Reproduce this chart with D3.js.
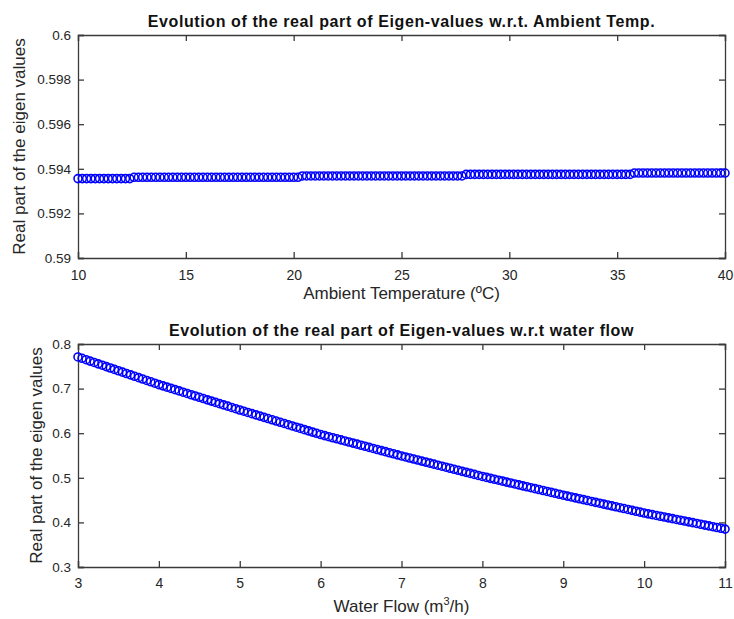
<!DOCTYPE html>
<html>
<head>
<meta charset="utf-8">
<script src="https://cdnjs.cloudflare.com/ajax/libs/d3/7.8.5/d3.min.js"></script>
<style>
  body { margin: 0; background: white; }
  text { font-family: "Liberation Sans", Arial, sans-serif; }
</style>
</head>
<body>
<svg id="graph"></svg>
<script>
const width = 734;
const height = 619;

//////////////// data: ambient temperature (top plot)
const tempX = [
  10, 10.2, 10.4, 10.6, 10.8, 11, 11.2, 11.4, 11.6, 11.8, 12, 12.2, 12.4,
  12.6, 12.8, 13, 13.2, 13.4, 13.6, 13.8, 14, 14.2, 14.4, 14.6, 14.8, 15, 15.2, 15.4, 15.6, 15.8,
  16, 16.2, 16.4, 16.6, 16.8, 17, 17.2, 17.4, 17.6, 17.8, 18, 18.2, 18.4, 18.6, 18.8, 19, 19.2,
  19.4, 19.6, 19.8, 20, 20.2,
  20.4, 20.6, 20.8, 21, 21.2, 21.4, 21.6, 21.8, 22, 22.2, 22.4, 22.6, 22.8, 23, 23.2, 23.4, 23.6,
  23.8, 24, 24.2, 24.4, 24.6, 24.8, 25, 25.2, 25.4, 25.6, 25.8, 26, 26.2, 26.4, 26.6, 26.8, 27,
  27.2, 27.4, 27.6, 27.8,
  28, 28.2, 28.4, 28.6, 28.8, 29, 29.2, 29.4, 29.6, 29.8, 30, 30.2, 30.4, 30.6, 30.8, 31, 31.2,
  31.4, 31.6, 31.8, 32, 32.2, 32.4, 32.6, 32.8, 33, 33.2, 33.4, 33.6, 33.8, 34, 34.2, 34.4, 34.6,
  34.8, 35, 35.2, 35.4, 35.6,
  35.8, 36, 36.2, 36.4, 36.6, 36.8, 37, 37.2, 37.4, 37.6, 37.8, 38, 38.2, 38.4, 38.6, 38.8, 39,
  39.2, 39.4, 39.6, 39.8, 40
];
const tempY = [
  0.59356, 0.59356, 0.59356, 0.59356, 0.59356, 0.59356, 0.59356, 0.59356, 0.59356, 0.59356, 0.59356, 0.59356, 0.59356,
  0.59362, 0.59362, 0.59362, 0.59362, 0.59362, 0.59362, 0.59362, 0.59362, 0.59362, 0.59362, 0.59362, 0.59362, 0.59362,
  0.59362, 0.59362, 0.59362, 0.59362, 0.59362, 0.59362, 0.59362, 0.59362, 0.59362, 0.59362, 0.59362, 0.59362, 0.59362,
  0.59362, 0.59362, 0.59362, 0.59362, 0.59362, 0.59362, 0.59362, 0.59362, 0.59362, 0.59362, 0.59362, 0.59362, 0.59362,
  0.59368, 0.59368, 0.59368, 0.59368, 0.59368, 0.59368, 0.59368, 0.59368, 0.59368, 0.59368, 0.59368, 0.59368, 0.59368,
  0.59368, 0.59368, 0.59368, 0.59368, 0.59368, 0.59368, 0.59368, 0.59368, 0.59368, 0.59368, 0.59368, 0.59368, 0.59368,
  0.59368, 0.59368, 0.59368, 0.59368, 0.59368, 0.59368, 0.59368, 0.59368, 0.59368, 0.59368, 0.59368, 0.59368,
  0.59375, 0.59375, 0.59375, 0.59375, 0.59375, 0.59375, 0.59375, 0.59375, 0.59375, 0.59375, 0.59375, 0.59375, 0.59375,
  0.59375, 0.59375, 0.59375, 0.59375, 0.59375, 0.59375, 0.59375, 0.59375, 0.59375, 0.59375, 0.59375, 0.59375, 0.59375,
  0.59375, 0.59375, 0.59375, 0.59375, 0.59375, 0.59375, 0.59375, 0.59375, 0.59375, 0.59375, 0.59375, 0.59375, 0.59375,
  0.59381, 0.59381, 0.59381, 0.59381, 0.59381, 0.59381, 0.59381, 0.59381, 0.59381, 0.59381, 0.59381,
  0.59381, 0.59381, 0.59381, 0.59381, 0.59381, 0.59381, 0.59381, 0.59381, 0.59381, 0.59381, 0.59381
];
const tempXTicks = [10, 15, 20, 25, 30, 35, 40];
const tempYTicks = [0.59, 0.592, 0.594, 0.596, 0.598, 0.6];

//////////////// data: water flow (bottom plot)
const flowX = [
  3, 3.05, 3.1, 3.15, 3.2, 3.25, 3.3, 3.35, 3.4, 3.45, 3.5, 3.55, 3.6, 3.65, 3.7, 3.75, 3.8, 3.85, 3.9, 3.95,
  4, 4.05, 4.1, 4.15, 4.2, 4.25, 4.3, 4.35, 4.4, 4.45, 4.5, 4.55, 4.6, 4.65, 4.7, 4.75, 4.8, 4.85, 4.9, 4.95,
  5, 5.05, 5.1, 5.15, 5.2, 5.25, 5.3, 5.35, 5.4, 5.45, 5.5, 5.55, 5.6, 5.65, 5.7, 5.75, 5.8, 5.85, 5.9, 5.95,
  6, 6.05, 6.1, 6.15, 6.2, 6.25, 6.3, 6.35, 6.4, 6.45, 6.5, 6.55, 6.6, 6.65, 6.7, 6.75, 6.8, 6.85, 6.9, 6.95,
  7, 7.05, 7.1, 7.15, 7.2, 7.25, 7.3, 7.35, 7.4, 7.45, 7.5, 7.55, 7.6, 7.65, 7.7, 7.75, 7.8, 7.85, 7.9, 7.95,
  8, 8.05, 8.1, 8.15, 8.2, 8.25, 8.3, 8.35, 8.4, 8.45, 8.5, 8.55, 8.6, 8.65, 8.7, 8.75, 8.8, 8.85, 8.9, 8.95,
  9, 9.05, 9.1, 9.15, 9.2, 9.25, 9.3, 9.35, 9.4, 9.45, 9.5, 9.55, 9.6, 9.65, 9.7, 9.75, 9.8, 9.85, 9.9, 9.95,
  10, 10.05, 10.1, 10.15, 10.2, 10.25, 10.3, 10.35, 10.4, 10.45, 10.5, 10.55, 10.6, 10.65, 10.7, 10.75, 10.8,
  10.85, 10.9, 10.95, 11
];
const flowY = [
  0.7710, 0.7679, 0.7648, 0.7617, 0.7586, 0.7555, 0.7524, 0.7493, 0.7462, 0.7431,
  0.7400, 0.7369, 0.7338, 0.7307, 0.7276, 0.7245, 0.7214, 0.7183, 0.7152, 0.7121,
  0.7090, 0.7062, 0.7033, 0.7005, 0.6976, 0.6948, 0.6919, 0.6891, 0.6862, 0.6834,
  0.6805, 0.6777, 0.6748, 0.6720, 0.6691, 0.6663, 0.6634, 0.6606, 0.6577, 0.6549,
  0.6520, 0.6493, 0.6465, 0.6438, 0.6410, 0.6383, 0.6355, 0.6328, 0.6300, 0.6273,
  0.6245, 0.6218, 0.6190, 0.6163, 0.6135, 0.6108, 0.6080, 0.6053, 0.6025, 0.5998,
  0.5970, 0.5946, 0.5922, 0.5898, 0.5874, 0.5850, 0.5826, 0.5802, 0.5778, 0.5754,
  0.5730, 0.5706, 0.5682, 0.5658, 0.5634, 0.5610, 0.5586, 0.5562, 0.5538, 0.5514,
  0.5490, 0.5467, 0.5444, 0.5421, 0.5398, 0.5375, 0.5352, 0.5329, 0.5306, 0.5283,
  0.5260, 0.5237, 0.5214, 0.5191, 0.5168, 0.5145, 0.5122, 0.5099, 0.5076, 0.5053,
  0.5030, 0.5009, 0.4988, 0.4967, 0.4946, 0.4925, 0.4904, 0.4883, 0.4862, 0.4841,
  0.4820, 0.4799, 0.4778, 0.4757, 0.4736, 0.4715, 0.4694, 0.4673, 0.4652, 0.4631,
  0.4610, 0.4590, 0.4570, 0.4550, 0.4530, 0.4510, 0.4490, 0.4470, 0.4450, 0.4430,
  0.4410, 0.4390, 0.4370, 0.4350, 0.4330, 0.4310, 0.4290, 0.4270, 0.4250, 0.4230,
  0.4210, 0.4192, 0.4174, 0.4156, 0.4138, 0.4120, 0.4102, 0.4084, 0.4066, 0.4048,
  0.4030, 0.4012, 0.3994, 0.3976, 0.3958, 0.3940, 0.3922, 0.3904, 0.3886, 0.3868,
  0.3850
];
const flowXTicks = [3, 4, 5, 6, 7, 8, 9, 10, 11];
const flowYTicks = [0.3, 0.4, 0.5, 0.6, 0.7, 0.8];

let svg = d3.select('#graph')
        .attr('width', width)
        .attr('height', height)
        .style('background-color', 'white');

// one MATLAB style subplot
function addPlot(opts) {
        let g = svg.append("g");
        let x = d3.scaleLinear().domain(opts.xDomain).range([opts.left, opts.right]);
        let y = d3.scaleLinear().domain(opts.yDomain).range([opts.bottom, opts.top]);

        // box + inward ticks on all four sides
        g.append("g").attr("class", "ax xb")
                .attr("transform", "translate(0," + opts.bottom + ")")
                .call(d3.axisBottom(x).tickValues(opts.xTicks).tickSize(-6).tickPadding(opts.xPad).tickFormat(d => String(d)));
        g.append("g").attr("class", "ax")
                .attr("transform", "translate(0," + opts.top + ")")
                .call(d3.axisTop(x).tickValues(opts.xTicks).tickSize(-6).tickFormat(""));
        g.append("g").attr("class", "ax yl")
                .attr("transform", "translate(" + opts.left + ",0)")
                .call(d3.axisLeft(y).tickValues(opts.yTicks).tickSize(-6).tickPadding(7).tickFormat(d => String(d)));
        g.append("g").attr("class", "ax")
                .attr("transform", "translate(" + opts.right + ",0)")
                .call(d3.axisRight(y).tickValues(opts.yTicks).tickSize(-6).tickFormat(""));

        g.selectAll(".ax path, .ax line").style("stroke", "#3a3a3a").style("stroke-width", 1.3);
        g.selectAll(".xb text").style("font-size", "14px").style("fill", "#262626");
        g.selectAll(".yl text").style("font-size", "13.5px").style("fill", "#262626");

        // markers
        g.selectAll("circle")
                .data(opts.xs.map((v, i) => ({x: v, y: opts.ys[i]})))
                .enter()
                .append("circle")
                .attr("cx", d => x(d.x))
                .attr("cy", d => y(d.y))
                .attr("r", 4)
                .style("fill", "none")
                .style("stroke", "#0000ff")
                .style("stroke-width", 1.6);

        // title
        g.append("text")
                .attr("x", (opts.left + opts.right) / 2)
                .attr("y", opts.titleY)
                .attr("text-anchor", "middle")
                .style("font-size", "16px")
                .style("font-weight", "bold")
                .style("letter-spacing", "0.6px")
                .style("fill", "#111")
                .text(opts.title);

        // x label
        let xl = g.append("text")
                .attr("x", (opts.left + opts.right) / 2)
                .attr("y", opts.xLabelY)
                .attr("text-anchor", "middle")
                .style("font-size", "17px")
                .style("fill", "#262626");
        opts.xLabel(xl);

        // y label
        g.append("text")
                .attr("transform", "translate(" + opts.yLabelX + "," + (opts.top + opts.bottom) / 2 + ") rotate(-90)")
                .attr("text-anchor", "middle")
                .style("font-size", "17px")
                .style("fill", "#262626")
                .text("Real part of the eigen values");
}

addPlot({
        left: 78, right: 725, top: 35, bottom: 258,
        xDomain: [10, 40], yDomain: [0.59, 0.6],
        xTicks: tempXTicks, yTicks: tempYTicks, xPad: 12,
        xs: tempX, ys: tempY,
        title: "Evolution of the real part of Eigen-values w.r.t. Ambient Temp.",
        titleY: 27,
        xLabelY: 299,
        xLabel: t => t.text("Ambient Temperature (ºC)"),
        yLabelX: 25
});

addPlot({
        left: 78, right: 725, top: 344, bottom: 567,
        xDomain: [3, 11], yDomain: [0.3, 0.8],
        xTicks: flowXTicks, yTicks: flowYTicks, xPad: 11,
        xs: flowX, ys: flowY,
        title: "Evolution of the real part of Eigen-values w.r.t water flow",
        titleY: 336,
        xLabelY: 612,
        xLabel: t => {
                t.append("tspan").text("Water Flow (m");
                t.append("tspan").attr("dy", -7).style("font-size", "11px").text("3");
                t.append("tspan").attr("dy", 7).text("/h)");
        },
        yLabelX: 42
});
</script>
</body>
</html>
